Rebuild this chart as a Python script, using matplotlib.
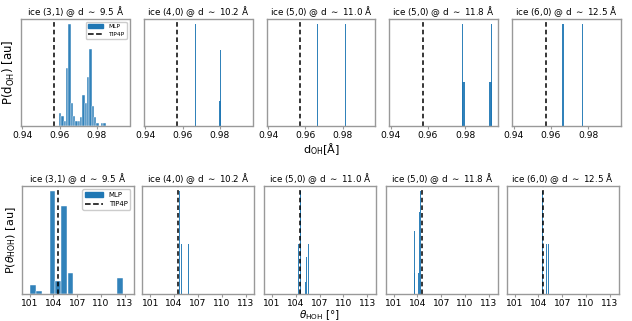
import matplotlib
matplotlib.use("Agg")
import matplotlib.pyplot as plt
from matplotlib.lines import Line2D
from matplotlib.patches import Patch

titles = [r"ice (3,1) @ d $\sim$ 9.5 Å", r"ice (4,0) @ d $\sim$ 10.2 Å",
          r"ice (5,0) @ d $\sim$ 11.0 Å", r"ice (5,0) @ d $\sim$ 11.8 Å",
          r"ice (6,0) @ d $\sim$ 12.5 Å"]

tip4p_dOH = 0.9572
tip4p_theta = 104.52

# d_OH histograms (bin centres, normalised heights, bin widths)
dOH_p1_x = [0.96033, 0.96158, 0.96283, 0.96408, 0.96533, 0.96658, 0.96783, 0.96908,
            0.97033, 0.97158, 0.97283, 0.97408, 0.97533, 0.97658, 0.97783, 0.97908,
            0.98033, 0.98158, 0.98283, 0.98408]
dOH_p1_h = [0.13, 0.10, 0.05, 0.57, 1.0, 0.23, 0.10, 0.05, 0.05, 0.09, 0.30, 0.23,
            0.48, 0.76, 0.20, 0.09, 0.03, 0.0, 0.03, 0.03]
dOH_p1_w = [0.00125] * 20

dOH_p2_x = [0.9668, 0.9800, 0.9806]
dOH_p2_h = [1.0, 0.25, 0.75]
dOH_p2_w = [0.0007, 0.0012, 0.0006]

dOH_p3_x = [0.9666, 0.9815]
dOH_p3_h = [1.0, 1.0]
dOH_p3_w = [0.0008, 0.0008]

dOH_p4_x = [0.9787, 0.9792, 0.9941, 0.9937]
dOH_p4_h = [1.0, 0.43, 1.0, 0.43]
dOH_p4_w = [0.0007, 0.0014, 0.0008, 0.0014]

dOH_p5_x = [0.9665, 0.9771]
dOH_p5_h = [1.0, 1.0]
dOH_p5_w = [0.0007, 0.0006]

# theta_HOH histograms
th_p1_x = [101.44, 102.18, 103.88, 104.60, 105.35, 106.15, 112.42]
th_p1_h = [0.09, 0.025, 1.0, 0.13, 0.857, 0.2, 0.16]
th_p1_w = [0.74] * 7

th_p2_x = [104.64, 104.93, 105.77]
th_p2_h = [1.0, 0.49, 0.49]
th_p2_w = [0.14, 0.14, 0.10]

th_p3_x = [104.31, 104.55, 105.26, 105.37, 105.65]
th_p3_h = [0.49, 1.0, 0.12, 0.36, 0.49]
th_p3_w = [0.10, 0.14, 0.14, 0.10, 0.14]

th_p4_x = [103.67, 103.67, 104.10, 104.24, 104.37]
th_p4_h = [0.61, 0.2, 0.2, 0.8, 1.0]
th_p4_w = [0.09, 0.14, 0.14, 0.14, 0.14]

th_p5_x = [104.52, 105.01, 105.22]
th_p5_h = [1.0, 0.49, 0.49]
th_p5_w = [0.14, 0.14, 0.14]

dOH_sets = [(dOH_p1_x, dOH_p1_h, dOH_p1_w), (dOH_p2_x, dOH_p2_h, dOH_p2_w),
            (dOH_p3_x, dOH_p3_h, dOH_p3_w), (dOH_p4_x, dOH_p4_h, dOH_p4_w),
            (dOH_p5_x, dOH_p5_h, dOH_p5_w)]
th_sets = [(th_p1_x, th_p1_h, th_p1_w), (th_p2_x, th_p2_h, th_p2_w),
           (th_p3_x, th_p3_h, th_p3_w), (th_p4_x, th_p4_h, th_p4_w),
           (th_p5_x, th_p5_h, th_p5_w)]

dOH_ticks = [0.94, 0.96, 0.98]
th_ticks = [101, 104, 107, 110, 113]

W, H = 632, 321
fig = plt.figure(figsize=(W / 100, H / 100), dpi=100)

top_lefts = [21, 144, 266.7, 389.3, 512.3]
bot_lefts = [21.7, 142.3, 264, 385.7, 506.7]

blue = "#1f77b4"
spine_col = "0.6"


def style(ax):
    for s in ax.spines.values():
        s.set_color(spine_col)
        s.set_linewidth(1.0)
    ax.set_yticks([])
    ax.tick_params(axis="x", labelsize=6.6, length=2.5, color=spine_col, pad=1.2)


def legend(ax, fs):
    handles = [Patch(color=blue, label="MLP"),
               Line2D([], [], color="black", ls="--", lw=1.1, label="TIP4P")]
    ax.legend(handles=handles, loc="upper right", fontsize=fs, handlelength=2.6,
              borderpad=0.4, labelspacing=0.4, framealpha=1, edgecolor="0.8")


for i in range(5):
    ax = fig.add_axes([top_lefts[i] / W, (H - 126) / H, 108.5 / W, 107 / H])
    x, h, w = dOH_sets[i]
    lw = 0.35 if i == 0 else 0
    ax.bar(x, h, width=w, color=blue, alpha=0.92, edgecolor="white", linewidth=lw)
    ax.axvline(tip4p_dOH, color="black", ls="--", lw=1.1, dashes=(3, 2))
    ax.set_xlim(0.9392, 0.9976)
    ax.set_ylim(0, 1.05 * max(h))
    ax.set_xticks(dOH_ticks)
    ax.set_xticklabels(["0.94", "0.96", "0.98"])
    ax.set_title(titles[i], fontsize=6.3, pad=2)
    style(ax)
    if i == 0:
        ax.set_ylabel(r"P(d$_{\rm OH}$) [au]", fontsize=8.5, labelpad=3)
        legend(ax, 4.2)
    if i == 2:
        ax.set_xlabel(r"d$_{\rm OH}$[Å]", fontsize=8, labelpad=1)

for i in range(5):
    ax = fig.add_axes([bot_lefts[i] / W, (H - 294) / H, 112 / W, 108 / H])
    x, h, w = th_sets[i]
    lw = 0.35 if i == 0 else 0
    ax.bar(x, h, width=w, color=blue, alpha=0.92, edgecolor="white", linewidth=lw)
    ax.axvline(tip4p_theta, color="black", ls="--", lw=1.1, dashes=(3, 2))
    ax.set_xlim(100.0, 114.1)
    ax.set_ylim(0, 1.05 * max(h))
    ax.set_xticks(th_ticks)
    ax.set_title(titles[i], fontsize=6.3, pad=2)
    style(ax)
    if i == 0:
        ax.set_ylabel(r"P($\theta_{\rm HOH}$) [au]", fontsize=8, labelpad=3)
        legend(ax, 5)
    if i == 2:
        ax.set_xlabel(r"$\theta_{\rm HOH}$ [°]", fontsize=7.5, labelpad=0)

fig.savefig("out.png", dpi=100)
